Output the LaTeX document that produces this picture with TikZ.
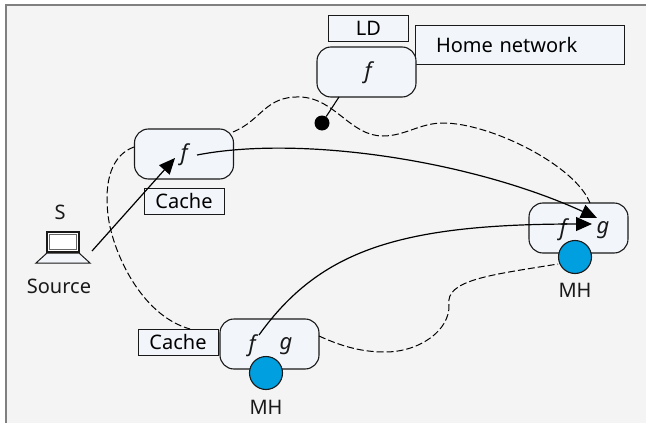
\documentclass[tikz,border=0pt]{standalone}
\usepackage{fontspec}
\setmainfont{Noto Sans}
\usetikzlibrary{arrows.meta}

\begin{document}
\begin{tikzpicture}[x=1pt,y=-1pt,line cap=butt]
  % Colors
  \definecolor{panelcolor}{HTML}{F4F4F4}
  \definecolor{boxcolor}{HTML}{F2F6FB}
  \definecolor{hostcolor}{HTML}{009FE0}
  \definecolor{framecolor}{HTML}{808080}

  % Styles
  \tikzstyle{router}=[draw=black!90,fill=boxcolor,line width=1.1pt,rounded corners=14pt,
    minimum width=99pt,minimum height=50pt,inner sep=0pt]
  \tikzstyle{tag}=[draw=black!90,fill=boxcolor,line width=0.9pt,inner sep=0pt,font=\fontsize{20}{20}\selectfont]
  \tikzstyle{label}=[inner sep=0pt,text=black!90,font=\fontsize{20}{20}\selectfont]
  \tikzstyle{state}=[inner sep=1pt,text=black!90,font=\fontsize{22}{22}\itshape\selectfont]
  \tikzstyle{host}=[circle,draw=black!90,fill=hostcolor,line width=1.1pt,minimum size=33pt,inner sep=0pt]
  \tikzstyle{flow}=[line width=1.2pt,-{Triangle[length=16pt,width=14pt]}]
  \tikzstyle{tunnel}=[line width=1pt,dash pattern=on 7pt off 3pt]

  % The graphic
  \useasboundingbox (0,0) rectangle (646,423);
  \fill[white] (0,0) rectangle (646,423);
  \fill[panelcolor] (5,4) rectangle (646,423);
  \draw[framecolor,line width=2.5pt] (6,423) -- (6,5) -- (646,5);

  % Tags behind the routers
  \node[tag,minimum width=80pt,minimum height=26pt] (ld) at (368.5,28) {LD};
  \node[tag,minimum width=209pt,minimum height=39pt,text width=167pt,align=left] (home) at (519.5,45) {Home network};
  \node[tag,minimum width=80pt,minimum height=26pt] (cachetop) at (184,201) {Cache};
  \node[tag,minimum width=80pt,minimum height=26pt] (cachelow) at (178,342) {Cache};

  % Routers
  \node[router] (rhome) at (366.5,72) {};
  \node[router] (rtop) at (184,154) {};
  \node[router] (rlow) at (269.5,344) {};
  \node[router] (rright) at (578.5,228) {};

  \node[state] (fhome) at (368,73) {f};
  \node[state] (ftop) at (184,155) {f};
  \node[state] (flow) at (252,346) {f};
  \node[state] (glow) at (286,346) {g};
  \node[state] (fright) at (563,230) {f};
  \node[state] (gright) at (603,230) {g};

  % Mobile hosts
  \node[host] (hostlow) at (266,373) {};
  \node[host] (hostright) at (575,257) {};
  \node[label] (mhlow) at (266,407) {MH};
  \node[label] (mhright) at (575,290) {MH};

  % Source laptop
  \node[label] (s) at (60,212) {S};
  \node[label] (source) at (59,286) {Source};
  \draw[black!90,fill=white,line width=1.2pt] (47,232) rectangle (79,252);
  \draw[black!60,line width=1.2pt] (49.5,234.5) rectangle (76.5,249.5);
  \draw[black!90,fill=boxcolor,line width=1pt] (47,253) -- (79,253) -- (90,263) -- (36,263) -- cycle;
  \coordinate (laptop) at (92,251);

  % Anycast member
  \node[circle,fill=black,minimum size=15pt,inner sep=0pt] (member) at (322,123) {};
  \draw[line width=1.1pt] (member) -- (339,97);

  % Dashed tree
  \draw[tunnel] (rtop.west |- 0,147) .. controls (112,155) and (104,180) .. (108,215)
    .. controls (112,250) and (140,315) .. (190,329);
  \draw[tunnel] (233,132) .. controls (262,120) and (265,96) .. (300,97)
    .. controls (335,98) and (350,136) .. (383,136)
    .. controls (405,136) and (420,123) .. (443,123)
    .. controls (490,123) and (575,165) .. (590,203);
  \draw[tunnel] (319,336) .. controls (345,348) and (365,352) .. (385,352)
    .. controls (420,352) and (450,330) .. (449,305)
    .. controls (445,280) and (490,275) .. (558,264);

  % Multicast flow
  \draw[flow] (laptop) -- (175,158);
  \draw[flow] (197,155) .. controls (300,135) and (470,160) .. (597,218);
  \draw[flow] (259,335) .. controls (320,250) and (400,224) .. (592,224);
\end{tikzpicture}
\end{document}
